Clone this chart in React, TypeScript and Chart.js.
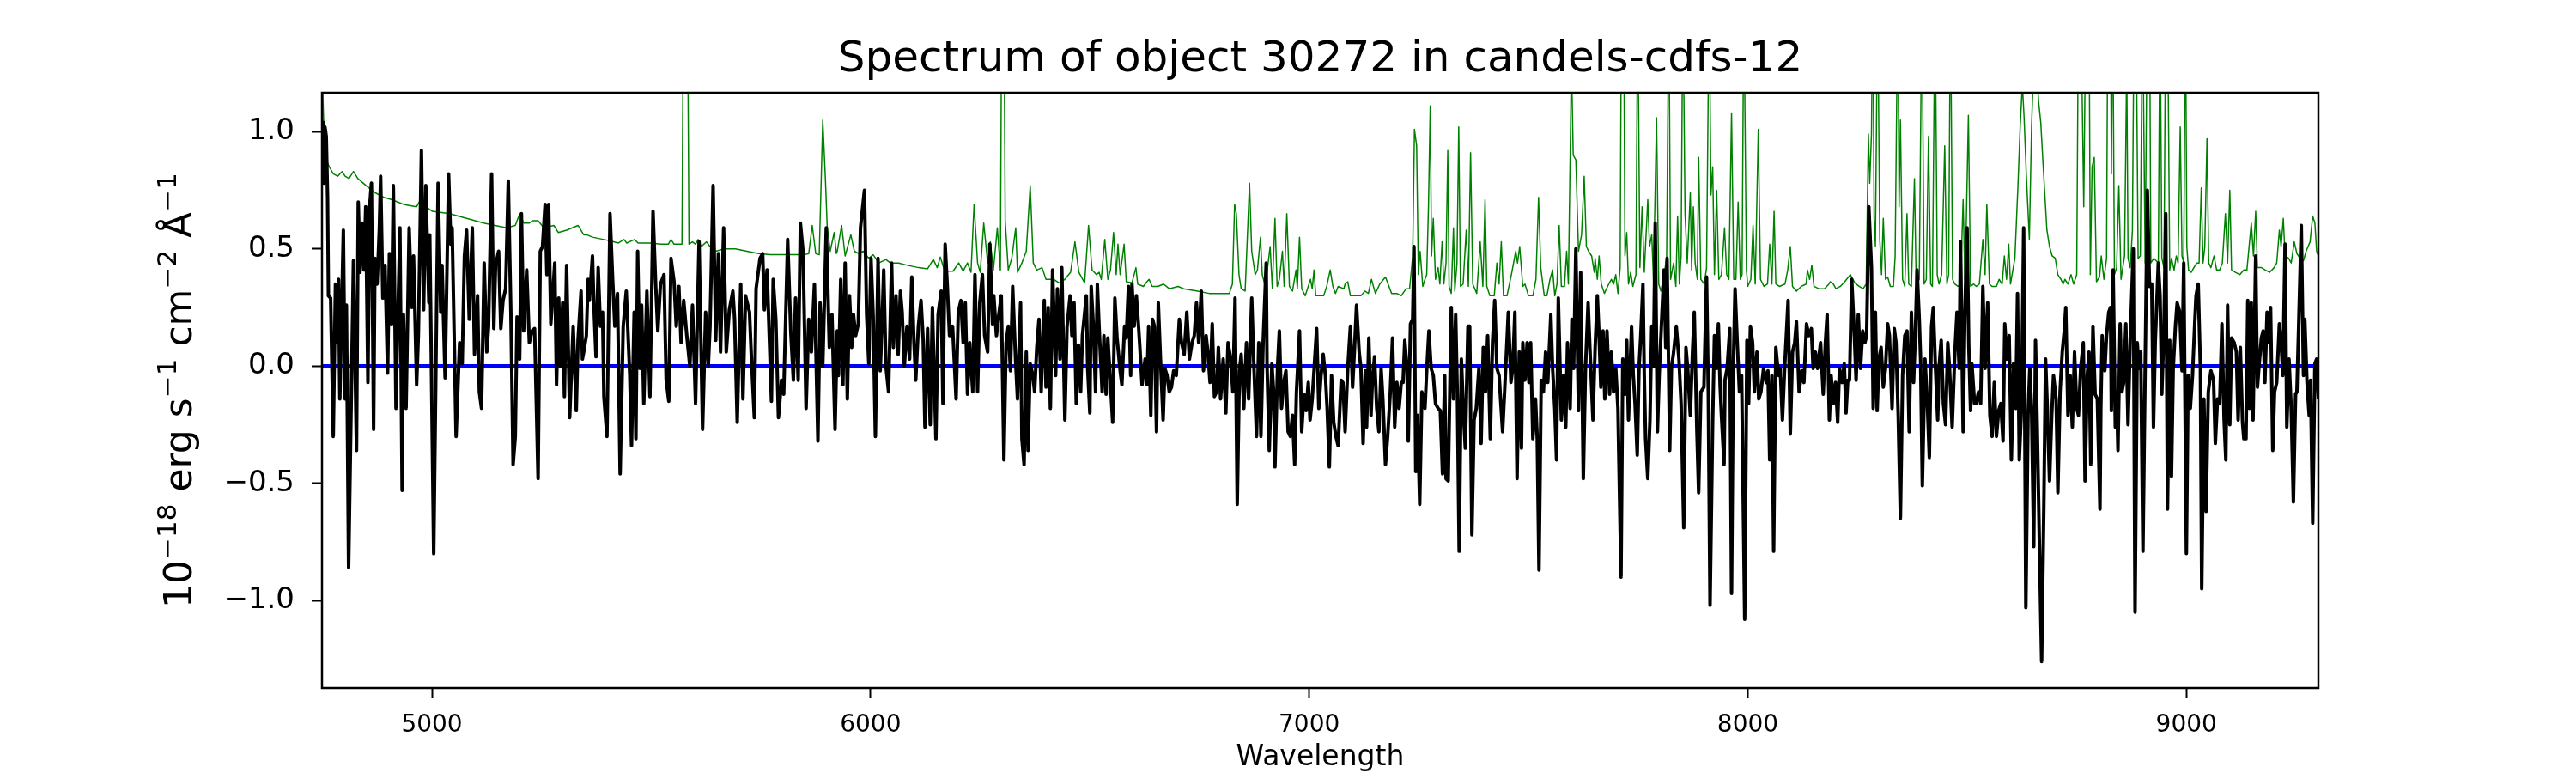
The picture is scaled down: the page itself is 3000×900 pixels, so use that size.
import React, { useEffect, useRef } from 'react';
import Chart from 'chart.js/auto';

// wavelength range and ticks
const X_MIN = 4749.3;
const X_MAX = 9301;
const Y_MIN = -1.373;
const Y_MAX = 1.166;
const xTicks = [5000, 6000, 7000, 8000, 9000];
const yTicks = [-1.0, -0.5, 0.0, 0.5, 1.0];
const zeroLevel = 0;

// flux [wavelength, value]
const fluxPoints: [number, number][] = [
  [4750,0.98],[4752,1.04],[4754,0.78],[4756,1.02],[4759,0.98],[4762,0.72],[4764,0.30],[4769,0.29],[4775,-0.30],[4780,0.35],[4784,0.10],[4787,0.37],[4790,-0.14],[4798,0.58],[4802,-0.14],[4805,0.26],[4810,-0.86],[4821,0.45],[4828,-0.36],[4832,0.70],[4836,0.40],[4841,0.61],[4845,0.41],[4849,0.68],[4854,-0.07],[4858,0.68],[4862,0.78],[4867,-0.27],[4870,0.46],[4875,0.35],[4880,0.58],[4883,0.81],[4888,0.29],[4893,0.43],[4899,-0.03],[4903,0.48],[4908,0.18],[4912,0.77],[4918,-0.18],[4922,0.18],[4927,0.59],[4932,-0.53],[4935,0.22],[4941,-0.18],[4948,0.59],[4954,0.25],[4958,0.47],[4965,-0.08],[4969,0.13],[4976,0.92],[4981,0.24],[4986,0.77],[4993,0.27],[4995,0.56],[5004,-0.80],[5014,0.78],[5020,0.23],[5023,0.43],[5030,-0.05],[5038,0.82],[5043,0.52],[5046,0.59],[5055,-0.30],[5063,0.10],[5069,0.01],[5074,0.47],[5079,0.58],[5085,0.20],[5092,0.59],[5097,0.05],[5104,0.30],[5108,-0.11],[5113,-0.18],[5119,0.44],[5125,0.06],[5129,0.17],[5136,0.82],[5141,0.16],[5145,0.43],[5152,0.49],[5157,0.16],[5162,0.28],[5168,0.33],[5174,0.79],[5180,0.22],[5185,-0.42],[5190,-0.30],[5194,0.21],[5200,0.03],[5204,0.65],[5209,0.15],[5216,0.41],[5222,0.10],[5228,0.15],[5234,0.16],[5242,-0.48],[5247,0.49],[5252,0.51],[5258,0.69],[5262,0.39],[5266,0.69],[5271,0.18],[5280,0.44],[5284,-0.08],[5289,0.29],[5293,0.00],[5298,0.27],[5302,-0.13],[5307,0.43],[5314,-0.22],[5322,0.17],[5329,-0.19],[5333,0.11],[5340,0.32],
  [5343,0.03],[5346,0.06],[5352,0.13],[5356,0.37],[5359,0.28],[5366,0.47],[5369,0.27],[5374,0.04],[5379,0.42],[5384,0.17],[5389,0.23],[5392,-0.13],[5399,-0.30],[5406,0.65],[5412,0.37],[5417,0.17],[5423,0.31],[5429,-0.46],[5436,0.17],[5443,0.32],[5451,-0.04],[5455,-0.34],[5461,0.23],[5465,-0.31],[5469,0.49],[5474,-0.01],[5478,0.26],[5483,-0.16],[5490,0.32],[5497,-0.13],[5504,0.66],[5510,0.35],[5515,0.15],[5521,0.35],[5529,0.39],[5534,-0.06],[5540,-0.15],[5545,0.46],[5552,0.36],[5557,0.17],[5563,0.34],[5568,0.10],[5574,0.28],[5581,0.13],[5588,0.00],[5594,0.26],[5601,-0.16],[5609,0.53],[5617,-0.27],[5624,0.23],[5630,0.00],[5634,0.17],[5641,0.77],[5647,0.11],[5653,0.48],[5658,0.06],[5665,0.59],[5671,0.06],[5678,0.24],[5686,0.32],[5690,0.20],[5696,-0.24],[5704,0.35],[5709,-0.14],[5715,0.30],[5724,0.23],[5728,0.05],[5735,-0.22],[5739,0.33],[5748,0.46],[5754,0.48],[5758,0.24],[5764,0.41],[5774,-0.15],[5778,0.37],[5784,0.20],[5790,-0.22],[5797,-0.06],[5802,-0.12],[5811,0.54],[5818,0.15],[5824,-0.06],[5829,0.29],[5835,-0.06],[5840,0.61],[5846,0.49],[5853,-0.18],[5859,0.20],[5865,0.06],[5872,0.35],[5880,-0.32],[5885,0.27],[5891,0.00],[5899,0.59],[5906,0.08],[5912,0.22],[5919,-0.27],
  [5924,0.15],[5927,-0.04],[5932,0.37],[5937,-0.08],[5942,0.44],[5947,-0.14],[5952,0.30],[5957,0.08],[5961,0.22],[5966,0.13],[5972,0.18],[5977,0.59],[5986,0.75],[5991,0.22],[5996,0.01],[6001,0.46],[6006,0.21],[6011,-0.30],[6017,0.46],[6022,-0.02],[6026,0.17],[6030,0.41],[6035,0.00],[6041,-0.11],[6048,0.44],[6052,0.08],[6058,0.30],[6063,0.05],[6068,0.32],[6072,0.23],[6077,0.00],[6083,0.17],[6089,0.03],[6094,0.38],[6099,0.10],[6103,-0.06],[6109,0.17],[6115,0.28],[6120,0.11],[6124,-0.26],[6130,0.16],[6136,-0.25],[6141,0.25],[6149,-0.31],[6154,0.22],[6161,0.32],[6165,-0.16],[6170,0.52],[6175,0.34],[6180,0.13],[6187,0.17],[6195,-0.14],[6200,0.23],[6206,0.28],[6211,0.10],[6216,0.27],[6221,-0.12],[6226,0.10],[6233,-0.11],[6238,0.39],[6244,-0.11],[6249,0.27],[6255,0.39],[6260,0.13],[6267,0.06],[6272,0.52],[6278,0.18],[6281,0.30],[6287,0.13],[6291,0.20],[6298,0.30],[6304,-0.40],[6309,0.10],[6314,0.17],[6319,-0.02],[6324,0.34],[6331,0.01],[6335,-0.14],[6342,0.27],[6345,-0.31],[6350,-0.42],[6355,0.06],[6359,-0.36],[6364,0.01],[6370,-0.04],[6374,-0.11],[6379,0.08],[6384,0.20],[6389,-0.11],[6396,0.28],[6400,-0.09],[6405,0.25],[6410,-0.18],[6415,0.41],[6422,-0.04],[6426,0.33],[6432,0.03],[6436,0.42],[6443,-0.23],[6448,0.17],[6455,0.30],[6459,0.13],[6464,0.27],[6469,-0.16],[6474,0.09],[6479,-0.11],[6483,0.13],[6492,0.30],[6495,-0.01],
  [6500,-0.20],[6503,0.34],[6508,0.17],[6513,-0.11],[6517,0.35],[6521,0.17],[6528,-0.11],[6532,0.13],[6537,-0.12],[6541,0.12],[6545,-0.01],[6552,-0.24],[6557,0.29],[6562,0.12],[6569,-0.02],[6573,-0.08],[6579,0.17],[6583,0.12],[6588,0.34],[6593,-0.04],[6596,0.35],[6601,0.17],[6606,0.30],[6611,0.17],[6614,0.08],[6619,-0.08],[6626,0.03],[6630,-0.08],[6634,0.17],[6639,-0.21],[6643,0.20],[6647,0.17],[6652,-0.28],[6656,0.27],[6661,0.03],[6667,-0.23],[6671,-0.01],[6676,-0.04],[6681,-0.11],[6686,-0.09],[6691,-0.02],[6697,-0.04],[6704,0.20],[6709,0.10],[6715,0.05],[6721,0.23],[6727,0.03],[6733,0.10],[6738,0.13],[6743,0.27],[6748,0.10],[6754,0.32],[6759,-0.02],[6765,0.13],[6769,0.06],[6774,-0.07],[6779,0.18],[6784,-0.13],[6789,-0.11],[6793,0.08],[6798,-0.14],[6804,0.03],[6810,-0.20],[6815,0.10],[6821,0.03],[6826,-0.11],[6831,0.29],[6836,-0.59],[6841,-0.02],[6845,0.05],[6851,-0.18],[6857,0.10],[6862,-0.14],[6869,0.29],[6874,0.00],[6880,-0.30],[6885,0.10],[6890,-0.30],[6895,0.10],[6902,0.44],[6904,0.00],[6909,-0.36],[6915,0.01],[6919,-0.11],[6922,-0.43],[6928,0.00],[6932,0.15],[6937,-0.18],[6942,-0.07],[6947,-0.02],[6952,-0.28],[6957,-0.30],[6962,-0.21],[6967,-0.42],[6971,-0.11],[6978,0.15],[6983,-0.28],[6988,-0.12],[6993,-0.19],[6998,-0.07],[7002,-0.23],[7007,-0.14],[7012,0.01],[7017,0.16],[7022,-0.18],[7027,-0.04],[7032,0.05],[7037,-0.04],[7041,-0.18],[7046,-0.43],[7051,-0.04],[7056,-0.24],[7061,-0.30],[7066,-0.34],[7073,-0.06],
  [7077,-0.07],[7082,-0.28],[7088,-0.01],[7094,0.17],[7099,-0.09],[7103,0.06],[7108,0.26],[7114,0.06],[7118,-0.01],[7123,-0.33],[7128,-0.02],[7131,-0.26],[7136,0.12],[7141,-0.21],[7144,-0.07],[7149,0.04],[7154,-0.18],[7159,-0.28],[7164,-0.01],[7168,-0.14],[7174,-0.42],[7179,-0.30],[7185,-0.11],[7190,0.12],[7195,-0.26],[7200,-0.07],[7205,-0.18],[7210,-0.07],[7214,-0.07],[7218,0.11],[7223,-0.01],[7226,-0.32],[7231,0.18],[7236,0.20],[7239,0.51],[7243,-0.45],[7247,-0.21],[7252,-0.59],[7257,-0.11],[7264,-0.18],[7268,-0.02],[7273,0.15],[7278,-0.01],[7283,-0.04],[7288,-0.16],[7294,-0.18],[7299,-0.19],[7304,-0.46],[7309,-0.04],[7312,-0.48],[7317,-0.49],[7324,0.25],[7329,-0.14],[7334,0.22],[7338,-0.14],[7342,-0.79],[7347,0.03],[7352,-0.21],[7356,-0.35],[7362,0.17],[7366,0.17],[7371,-0.72],[7376,-0.23],[7381,-0.18],[7387,-0.01],[7392,-0.33],[7397,0.08],[7402,-0.11],[7407,0.13],[7413,-0.31],[7418,0.10],[7423,0.28],[7428,-0.01],[7433,-0.04],[7441,-0.28],[7446,-0.09],[7454,0.23],[7460,-0.07],[7464,-0.01],[7469,0.23],[7474,-0.48],[7479,0.06],[7484,-0.35],[7487,0.10],[7492,-0.06],[7497,0.10],[7501,-0.07],[7505,0.10],[7510,-0.31],[7516,-0.14],[7520,-0.31],[7524,-0.87],[7529,-0.06],[7534,-0.11],[7539,0.06],[7544,-0.07],[7551,0.22],[7555,-0.01],[7560,-0.18],[7564,-0.40],[7568,0.29],[7575,-0.23],[7580,-0.04],[7585,-0.26],[7589,0.10],[7595,-0.18],[7599,0.20],[7603,-0.01],[7608,0.50],[7614,-0.19],[7619,0.40],[7625,-0.48],[7630,-0.01],[7636,0.27],[7640,0.08],[7647,-0.23],
  [7652,0.08],[7657,0.30],[7661,0.13],[7665,-0.09],[7670,0.15],[7674,-0.14],[7679,0.15],[7685,-0.12],[7689,0.06],[7694,-0.11],[7699,-0.01],[7704,-0.18],[7711,-0.90],[7715,0.03],[7720,-0.12],[7724,0.11],[7728,-0.23],[7735,0.17],[7739,-0.04],[7743,-0.16],[7748,-0.38],[7752,-0.01],[7756,0.13],[7761,0.35],[7764,-0.04],[7767,-0.31],[7772,-0.48],[7777,-0.23],[7781,0.17],[7785,0.00],[7789,0.61],[7794,-0.28],[7798,-0.04],[7803,0.17],[7809,0.41],[7813,0.08],[7816,0.46],[7822,-0.36],[7826,-0.01],[7831,0.06],[7837,0.17],[7843,0.03],[7848,-0.16],[7854,-0.69],[7859,0.08],[7863,-0.01],[7869,-0.21],[7874,0.06],[7878,0.23],[7884,-0.28],[7888,-0.54],[7893,-0.11],[7900,-0.09],[7906,0.38],[7910,-0.11],[7914,-1.02],[7920,-0.23],[7924,0.13],[7929,-0.01],[7933,0.18],[7937,-0.09],[7940,-0.21],[7946,-0.42],[7948,-0.06],[7953,-0.01],[7959,0.16],[7963,-0.97],[7967,-0.01],[7971,0.33],[7976,0.10],[7981,-0.11],[7986,-0.04],[7993,-1.08],[7998,0.11],[8002,-0.16],[8006,0.17],[8011,0.10],[8015,-0.11],[8021,0.06],[8025,-0.14],[8030,-0.11],[8036,-0.01],[8042,-0.07],[8046,-0.02],[8050,-0.40],[8055,-0.04],[8059,-0.79],[8064,0.08],[8070,-0.04],[8074,-0.01],[8079,-0.23],[8084,-0.01],[8092,0.28],[8097,-0.29],[8102,0.06],[8107,0.10],[8111,0.19],[8117,-0.11],[8123,-0.02],[8128,-0.07],[8134,0.18],[8139,0.13],[8145,0.16],[8149,-0.01],[8154,0.06],[8159,-0.01],[8166,0.10],[8172,-0.12],[8177,0.10],[8181,0.22],[8186,-0.23],[8190,-0.04],[8195,-0.16],[8200,-0.07],[8205,-0.24],[8209,-0.01],[8215,-0.07],[8220,0.01],[8224,-0.20],[8228,-0.06],
  [8232,-0.06],[8237,0.37],[8243,0.13],[8247,-0.06],[8252,0.22],[8257,-0.01],[8262,0.15],[8267,0.10],[8271,0.13],[8276,0.68],[8282,0.42],[8286,-0.18],[8291,0.23],[8295,-0.19],[8299,0.03],[8304,0.08],[8309,-0.09],[8314,-0.01],[8319,0.18],[8323,0.13],[8329,-0.18],[8334,0.16],[8338,0.10],[8343,-0.21],[8348,-0.65],[8353,-0.04],[8358,0.13],[8363,0.15],[8368,-0.28],[8373,0.23],[8378,-0.07],[8382,0.13],[8386,0.41],[8391,0.20],[8394,0.03],[8398,-0.51],[8404,0.03],[8409,-0.14],[8414,-0.39],[8419,0.17],[8423,0.25],[8428,-0.01],[8433,-0.23],[8436,-0.01],[8441,0.11],[8446,-0.16],[8451,-0.25],[8456,0.10],[8460,-0.01],[8466,-0.26],[8472,0.05],[8477,0.23],[8482,-0.01],[8485,0.53],[8491,-0.28],[8495,0.23],[8500,0.59],[8504,0.08],[8508,-0.19],[8511,0.01],[8517,-0.16],[8521,-0.16],[8526,-0.11],[8531,-0.16],[8536,0.34],[8541,-0.01],[8547,0.27],[8552,-0.21],[8557,-0.30],[8562,-0.07],[8567,-0.30],[8572,-0.19],[8577,-0.16],[8582,-0.32],[8586,0.18],[8591,0.03],[8596,0.13],[8601,-0.40],[8606,0.01],[8611,-0.18],[8615,0.31],[8619,-0.40],[8624,-0.18],[8629,0.59],[8634,-1.03],[8639,-0.21],[8643,-0.01],[8647,-0.18],[8652,-0.77],[8656,0.11],[8660,-0.26],[8665,-0.77],[8670,-1.26],[8675,-0.60],[8679,0.03],[8683,-0.18],[8688,-0.49],[8693,-0.21],[8697,-0.04],[8703,-0.14],[8707,-0.54],[8712,-0.11],[8717,0.06],[8722,0.16],[8725,0.25],[8730,-0.21],[8735,-0.04],[8740,-0.26],[8745,0.06],[8750,-0.18],[8754,-0.21],[8759,-0.01],[8765,0.10],[8769,-0.49],[8774,-0.04],[8778,0.06],[8782,-0.42],[8787,0.17],[8792,-0.12],[8797,-0.14],[8803,-0.61],[8805,-0.18],[8808,0.13],
  [8814,-0.02],[8818,0.13],[8823,0.23],[8827,0.25],[8829,-0.19],[8833,0.41],[8838,-0.26],[8841,-0.11],[8844,-0.36],[8849,0.18],[8853,-0.11],[8857,-0.07],[8862,0.18],[8867,-0.25],[8872,0.11],[8879,0.50],[8883,-1.05],[8888,0.10],[8892,-0.01],[8896,0.06],[8901,-0.79],[8906,-0.01],[8911,0.75],[8916,0.34],[8921,0.35],[8925,-0.26],[8929,0.10],[8936,0.44],[8940,0.30],[8944,-0.12],[8949,0.17],[8953,0.65],[8957,-0.61],[8962,0.11],[8966,-0.47],[8970,-0.01],[8975,0.17],[8979,0.27],[8985,0.23],[8990,-0.02],[8994,0.44],[9000,-0.80],[9004,-0.04],[9009,-0.18],[9014,-0.04],[9019,0.18],[9022,0.30],[9027,0.35],[9032,-0.01],[9035,-0.95],[9040,-0.14],[9045,-0.62],[9050,-0.11],[9056,-0.02],[9062,-0.06],[9066,-0.33],[9071,-0.14],[9076,-0.16],[9081,0.18],[9086,-0.23],[9090,-0.40],[9094,0.26],[9099,-0.25],[9103,0.12],[9109,0.10],[9114,0.06],[9118,-0.23],[9123,0.08],[9128,-0.24],[9131,-0.31],[9136,-0.31],[9140,0.28],[9144,-0.18],[9148,0.27],[9152,-0.23],[9158,0.47],[9162,-0.09],[9166,0.01],[9171,0.12],[9175,0.15],[9179,-0.07],[9184,0.23],[9188,0.10],[9192,0.25],[9197,-0.36],[9201,-0.11],[9206,-0.07],[9212,0.18],[9216,0.10],[9220,-0.04],[9225,0.52],[9229,-0.26],[9234,0.03],[9239,-0.18],[9244,-0.58],[9249,-0.12],[9252,-0.11],[9257,0.24],[9262,0.60],[9267,-0.04],[9270,0.20],[9275,-0.07],[9280,-0.21],[9283,-0.06],[9288,-0.67],[9293,0.01],[9297,0.03],[9301,-0.14],
];

// noise / sigma spectrum [wavelength, value]
const sigmaPoints: [number, number][] = [
  [4749,1.3],[4753,1.05],[4759,0.88],[4766,0.85],[4775,0.82],[4785,0.81],[4795,0.83],[4802,0.81],[4811,0.80],[4821,0.83],[4831,0.80],[4850,0.77],[4870,0.74],[4890,0.72],[4909,0.71],[4922,0.70],[4935,0.69],[4965,0.68],[4971,0.70],[5001,0.66],[5040,0.65],[5079,0.63],[5118,0.61],[5170,0.59],[5190,0.60],[5200,0.65],[5209,0.61],[5222,0.61],[5229,0.62],[5242,0.62],[5255,0.59],[5278,0.60],[5288,0.57],[5307,0.58],[5333,0.60],[5346,0.56],
  [5353,0.56],[5366,0.55],[5392,0.54],[5405,0.535],[5425,0.525],[5438,0.54],[5444,0.525],[5462,0.54],[5470,0.525],[5497,0.525],[5523,0.52],[5539,0.52],[5545,0.54],[5552,0.52],[5570,0.52],[5574,1.8],[5582,1.8],[5586,0.52],[5594,0.53],[5601,0.52],[5607,0.54],[5614,0.51],[5626,0.53],[5634,0.51],[5647,0.49],[5666,0.50],[5692,0.50],[5718,0.49],[5745,0.48],[5771,0.475],[5797,0.475],[5849,0.475],[5859,0.48],[5867,0.60],[5875,0.48],[5883,0.475],[5891,1.05],[5897,0.80],[5901,0.60],[5908,0.49],[5917,0.57],[5922,0.48],
  [5924,0.49],[5934,0.60],[5942,0.47],[5955,0.56],[5963,0.49],[5973,0.48],[5983,0.49],[5996,0.46],[6006,0.475],[6019,0.44],[6035,0.455],[6045,0.44],[6064,0.44],[6084,0.43],[6110,0.42],[6130,0.415],[6143,0.455],[6152,0.42],[6159,0.465],[6169,0.405],[6188,0.405],[6201,0.44],[6211,0.405],[6221,0.44],[6229,0.40],[6236,0.69],[6244,0.44],[6250,0.40],[6258,0.61],[6267,0.44],[6273,0.53],[6280,0.41],[6289,0.59],[6296,0.41],[6299,1.6],[6304,1.6],[6307,0.62],[6314,0.41],[6322,0.46],[6331,0.59],[6335,0.40],[6345,0.44],[6355,0.49],[6364,0.77],[6371,0.44],[6379,0.41],[6391,0.42],[6400,0.37],[6417,0.37],[6430,0.355],[6443,0.37],[6456,0.40],[6466,0.53],[6475,0.40],[6488,0.355],[6497,0.60],
  [6505,0.41],[6515,0.39],[6521,0.40],[6526,0.37],[6534,0.54],[6541,0.37],[6547,0.41],[6554,0.57],[6560,0.39],[6564,0.52],[6569,0.39],[6578,0.52],[6583,0.36],[6596,0.355],[6605,0.42],[6609,0.35],[6622,0.34],[6630,0.36],[6635,0.37],[6642,0.34],[6655,0.34],[6668,0.35],[6681,0.33],[6701,0.34],[6714,0.33],[6746,0.32],[6772,0.31],[6798,0.31],[6818,0.31],[6825,0.35],[6830,0.69],[6834,0.65],[6840,0.39],[6845,0.33],[6854,0.32],[6864,0.78],[6869,0.49],[6877,0.39],[6882,0.41],[6889,0.55],[6893,0.39],[6900,0.34],[6911,0.51],[6916,0.33],[6922,0.63],[6927,0.34],[6932,0.37],[6939,0.49],[6943,0.34],[6949,0.65],[6955,0.34],[6962,0.32],[6970,0.41],[6973,0.33],[6978,0.55],[6983,0.33],[6991,0.30],[7003,0.37],[7007,0.33],[7011,0.41],[7015,0.30],[7033,0.30],[7040,0.34],[7048,0.41],[7054,0.34],[7060,0.31],[7066,0.34],[7079,0.33],
  [7082,0.35],[7088,0.36],[7094,0.30],[7108,0.30],[7118,0.30],[7127,0.32],[7135,0.31],[7142,0.37],[7151,0.31],[7161,0.35],[7174,0.38],[7180,0.35],[7188,0.31],[7200,0.31],[7210,0.30],[7221,0.33],[7229,0.33],[7236,0.47],[7240,1.01],[7245,0.94],[7249,0.39],[7253,0.49],[7259,0.34],[7264,0.37],[7268,0.39],[7272,0.68],[7276,1.11],[7279,0.47],[7283,0.63],[7288,0.37],[7294,0.42],[7298,0.35],[7303,0.53],[7307,0.35],[7312,0.44],[7316,0.92],[7319,0.34],[7324,0.31],[7329,0.59],[7332,0.32],[7337,0.44],[7341,1.02],[7345,0.34],[7351,0.35],[7358,0.58],[7363,0.34],[7368,0.91],[7373,0.35],[7382,0.31],[7390,0.53],[7396,0.34],[7401,0.71],[7405,0.34],[7412,0.30],[7422,0.30],[7428,0.44],[7433,0.35],[7438,0.53],[7443,0.30],[7451,0.30],[7461,0.39],[7471,0.49],[7475,0.44],[7480,0.51],[7487,0.34],[7492,0.35],[7500,0.30],[7510,0.30],[7517,0.37],[7523,0.72],[7528,0.42],[7536,0.30],[7542,0.30],[7549,0.37],[7555,0.41],[7560,0.30],[7565,0.35],[7570,0.60],[7575,0.34],[7582,0.34],[7587,0.49],[7591,0.35],[7598,1.3],[7602,0.90],[7608,0.88],[7614,0.49],[7621,0.56],[7627,0.81],[7632,0.51],[7637,0.49],[7644,0.47],[7650,0.40],
  [7652,0.46],[7657,0.37],[7661,0.47],[7666,0.35],[7673,0.31],[7683,0.35],[7689,0.37],[7694,0.35],[7699,0.39],[7704,0.31],[7709,0.42],[7712,1.6],[7717,1.6],[7720,0.47],[7724,0.57],[7728,0.35],[7733,0.40],[7738,0.34],[7745,0.39],[7749,1.6],[7754,0.42],[7759,0.68],[7764,0.40],[7772,0.71],[7776,0.51],[7781,0.56],[7785,0.37],[7792,1.06],[7797,0.35],[7802,0.32],[7809,0.39],[7815,0.46],[7820,1.6],[7824,0.37],[7831,0.44],[7836,0.34],[7840,0.64],[7844,0.35],[7848,0.47],[7852,1.6],[7857,0.65],[7862,0.44],[7869,0.74],[7872,0.41],[7876,0.68],[7880,0.44],[7885,0.37],[7888,0.89],[7893,0.37],[7901,0.35],[7906,0.42],[7912,1.6],[7916,0.73],[7920,0.85],[7924,0.39],[7929,0.75],[7934,0.37],[7940,0.39],[7947,0.59],[7952,0.39],[7957,0.37],[7963,1.08],[7968,0.37],[7973,0.37],[7978,0.70],[7983,0.37],[7987,0.39],[7991,1.6],[7997,0.41],[8000,0.34],[8007,0.37],[8012,0.60],[8017,0.35],[8024,1.01],[8029,0.37],[8037,0.34],[8045,0.35],[8050,0.52],[8055,0.35],[8060,0.66],[8064,0.35],[8072,0.34],[8085,0.35],[8091,0.41],[8097,0.51],[8102,0.34],[8111,0.32],[8122,0.34],[8133,0.35],[8136,0.41],[8141,0.37],[8146,0.43],[8151,0.34],[8162,0.33],[8175,0.33],[8185,0.35],[8188,0.36],[8195,0.35],[8201,0.33],[8211,0.34],[8221,0.36],[8234,0.39],
  [8244,0.355],[8254,0.34],[8263,0.33],[8270,0.35],[8275,0.99],[8278,0.78],[8282,0.99],[8285,1.6],[8288,0.63],[8291,0.51],[8296,1.6],[8301,0.54],[8305,0.39],[8309,0.63],[8314,0.37],[8319,0.38],[8325,0.34],[8332,0.34],[8336,0.47],[8342,1.6],[8345,0.68],[8348,1.05],[8353,0.37],[8358,0.34],[8363,0.65],[8367,0.35],[8373,0.34],[8380,0.80],[8384,0.35],[8391,0.37],[8397,1.6],[8402,0.35],[8407,0.37],[8412,0.98],[8417,0.35],[8421,0.34],[8427,1.6],[8432,0.39],[8436,0.35],[8442,0.39],[8449,0.94],[8454,0.35],[8458,0.39],[8462,1.6],[8467,0.37],[8472,0.35],[8479,0.34],[8485,0.35],[8491,0.71],[8495,0.37],[8498,0.59],[8503,1.07],[8508,0.34],[8515,0.35],[8521,0.34],[8528,0.35],[8536,0.54],[8541,0.39],[8545,0.69],[8551,0.35],[8557,0.34],[8567,0.34],[8573,0.37],[8580,0.35],[8585,0.47],[8590,0.37],[8595,0.52],[8599,0.35],[8609,0.46],[8616,0.77],[8621,1.02],[8626,1.2],[8630,1.06],[8635,0.82],[8642,0.54],[8647,1.02],[8652,1.3],[8658,1.3],[8663,1.13],[8668,1.04],[8673,0.87],[8678,0.71],[8682,0.58],[8688,0.51],[8694,0.47],[8701,0.46],[8707,0.39],[8714,0.37],[8719,0.35],[8723,0.37],[8730,0.35],[8737,0.39],[8743,0.35],[8750,0.39],[8754,1.6],[8759,1.6],[8766,0.68],[8771,1.6],[8778,1.6],[8781,0.39],[8785,0.85],[8790,0.89],[8795,0.36],[8802,0.38],[8806,0.47],[8812,0.37],
  [8818,0.46],[8821,1.6],[8827,1.6],[8829,0.82],[8832,1.6],[8836,0.39],[8841,0.42],[8846,0.77],[8851,0.37],[8855,0.42],[8859,0.47],[8864,1.3],[8867,0.46],[8872,0.42],[8877,0.58],[8881,1.6],[8885,1.6],[8890,0.46],[8895,0.47],[8900,1.6],[8906,0.44],[8911,1.6],[8916,1.6],[8919,0.44],[8926,0.46],[8936,0.44],[8940,1.6],[8944,0.46],[8949,0.42],[8953,1.6],[8957,1.6],[8962,0.41],[8966,0.46],[8972,0.41],[8977,0.47],[8981,0.44],[8986,1.02],[8990,0.47],[8994,0.44],[8998,1.6],[9001,0.51],[9005,0.41],[9011,0.40],[9017,0.42],[9024,0.44],[9029,0.44],[9034,0.76],[9038,0.44],[9042,0.51],[9047,0.97],[9051,0.44],[9056,0.42],[9063,0.47],[9069,0.41],[9076,0.41],[9082,0.44],[9089,0.65],[9094,0.44],[9099,0.75],[9103,0.41],[9112,0.40],[9122,0.39],[9131,0.41],[9138,0.41],[9148,0.61],[9153,0.47],[9158,0.66],[9162,0.42],[9171,0.42],[9180,0.41],[9190,0.40],[9200,0.42],[9206,0.44],[9212,0.58],[9216,0.51],[9221,0.63],[9225,0.47],[9233,0.46],[9239,0.44],[9246,0.53],[9252,0.48],[9259,0.46],[9267,0.45],[9273,0.49],[9282,0.53],[9288,0.64],[9293,0.61],[9297,0.49],[9301,0.47],
];

const TITLE = 'Spectrum of object 30272 in candels-cdfs-12';
const X_LABEL = 'Wavelength';
// y label pieces, sup = superscript
const yLabelParts = [
  { t: '10', sup: false },
  { t: '\u221218', sup: true },
  { t: ' erg s', sup: false },
  { t: '\u22121', sup: true },
  { t: ' cm', sup: false },
  { t: '\u22122', sup: true },
  { t: ' \u00c5', sup: false },
  { t: '\u22121', sup: true },
];

const FONT = '"DejaVu Sans", "Liberation Sans", sans-serif';

const textPlugin = {
  id: 'textPlugin',
  afterDatasetsDraw(chart: any) {
    const { ctx, chartArea } = chart;
    const { left, right, top, bottom } = chartArea;
    const cx = (left + right) / 2;
    ctx.save();
    // frame
    ctx.strokeStyle = '#000';
    ctx.lineWidth = 2.5;
    ctx.strokeRect(left, top, right - left, bottom - top);

    ctx.fillStyle = '#000';
    ctx.textBaseline = 'alphabetic';

    // title
    ctx.font = `50px ${FONT}`;
    ctx.textAlign = 'center';
    ctx.fillText(TITLE, cx, 83);

    // x label
    ctx.font = `33px ${FONT}`;
    ctx.fillText(X_LABEL, cx, 891);

    // y label, rotated, with superscripts
    const main = 44;
    const sup = 31;
    const raise = 18;
    let total = 0;
    const widths = yLabelParts.map((p) => {
      ctx.font = `${p.sup ? sup : main}px ${FONT}`;
      const w = ctx.measureText(p.t).width;
      total += w;
      return w;
    });
    ctx.translate(223, (top + bottom) / 2);
    ctx.rotate(-Math.PI / 2);
    ctx.textAlign = 'left';
    let x = -total / 2;
    yLabelParts.forEach((p, i) => {
      ctx.font = `${p.sup ? sup : main}px ${FONT}`;
      ctx.fillText(p.t, x, p.sup ? -raise : 0);
      x += widths[i];
    });
    ctx.restore();
  },
};

const App: React.FC = () => {
  const canvasRef = useRef<HTMLCanvasElement>(null);
  const chartRef = useRef<Chart | null>(null);

  useEffect(() => {
    if (!canvasRef.current) return;
    const ctx = canvasRef.current.getContext('2d');
    if (!ctx) return;
    if (chartRef.current) chartRef.current.destroy();

    chartRef.current = new Chart(ctx, {
      type: 'line',
      data: {
        datasets: [
          {
            label: 'flux',
            data: fluxPoints.map(([x, y]) => ({ x, y })),
            borderColor: '#000000',
            borderWidth: 4,
            pointRadius: 0,
            tension: 0,
            fill: false,
            borderJoinStyle: 'round',
          },
          {
            label: 'sigma',
            data: sigmaPoints.map(([x, y]) => ({ x, y })),
            borderColor: '#008000',
            borderWidth: 1.5,
            pointRadius: 0,
            tension: 0,
            fill: false,
            borderJoinStyle: 'round',
          },
          {
            label: 'zero',
            data: [
              { x: X_MIN, y: zeroLevel },
              { x: X_MAX, y: zeroLevel },
            ],
            borderColor: '#0000ff',
            borderWidth: 4.5,
            pointRadius: 0,
            fill: false,
          },
        ],
      },
      options: {
        responsive: false,
        animation: false,
        devicePixelRatio: 1,
        layout: { padding: { left: 0, top: 108, right: 300, bottom: 0 } },
        plugins: {
          legend: { display: false },
          tooltip: { enabled: false },
          title: { display: false },
        },
        scales: {
          x: {
            type: 'linear',
            min: X_MIN,
            max: X_MAX,
            afterBuildTicks: (scale: any) => {
              scale.ticks = xTicks.map((v) => ({ value: v }));
            },
            afterFit: (scale: any) => {
              scale.height = 99;
            },
            border: { display: false },
            grid: {
              drawOnChartArea: false,
              drawTicks: true,
              tickLength: 12,
              tickWidth: 2,
              tickColor: '#000',
            },
            ticks: {
              autoSkip: false,
              maxRotation: 0,
              padding: 15,
              color: '#000',
              font: { family: FONT, size: 28 },
              callback: (v: any) => String(v),
            },
          },
          y: {
            type: 'linear',
            min: Y_MIN,
            max: Y_MAX,
            afterBuildTicks: (scale: any) => {
              scale.ticks = yTicks.map((v) => ({ value: v }));
            },
            afterFit: (scale: any) => {
              scale.width = 375;
            },
            border: { display: false },
            grid: {
              drawOnChartArea: false,
              drawTicks: true,
              tickLength: 12,
              tickWidth: 2,
              tickColor: '#000',
            },
            ticks: {
              autoSkip: false,
              padding: 20,
              color: '#000',
              font: { family: FONT, size: 34 },
              callback: (v: any) => Number(v).toFixed(1).replace('-', '\u2212'),
            },
          },
        },
      },
      plugins: [textPlugin],
    });

    return () => {
      if (chartRef.current) {
        chartRef.current.destroy();
        chartRef.current = null;
      }
    };
  }, []);

  return (
    <div style={{ position: 'absolute', left: 0, top: 0, width: 3000, height: 900, background: '#fff' }}>
      <canvas ref={canvasRef} width={3000} height={900} style={{ width: 3000, height: 900 }} />
    </div>
  );
};

export default App;
